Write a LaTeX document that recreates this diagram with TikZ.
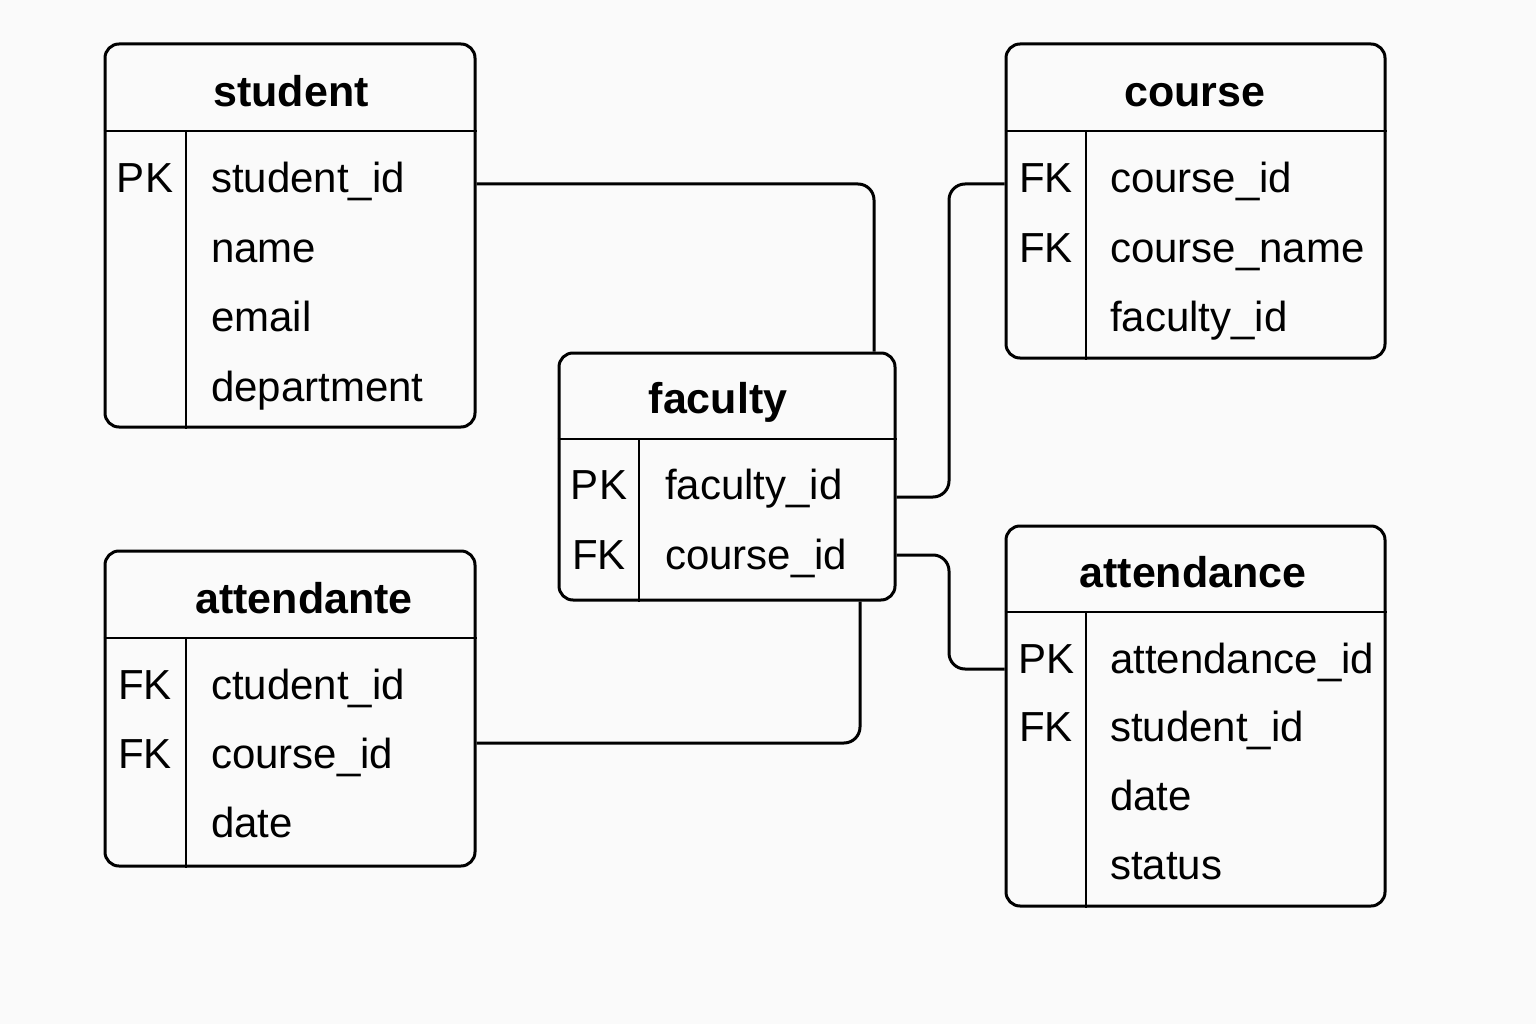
\documentclass[tikz,border=0pt]{standalone}
\usepackage{fontspec}
\setmainfont{Liberation Sans}
\usetikzlibrary{positioning}

\tikzset{
	table/.style={draw, line width=3pt, rounded corners=14pt, inner sep=0pt},
	rule/.style={line width=2.6pt},
	title/.style={anchor=base, inner sep=0pt, font=\fontsize{43}{50}\selectfont\bfseries},
	field/.style={anchor=base west, inner sep=0pt, font=\fontsize{42}{50}\selectfont},
	key/.style={anchor=base, inner sep=0pt, font=\fontsize{42}{50}\selectfont},
	link/.style={line width=3pt, rounded corners=16pt},
}

\begin{document}
\begin{tikzpicture}[x=1pt, y=-1pt]
	\useasboundingbox[fill=white!98!black] (0,0) rectangle (1536,1024);

	% Table student
	\node[table, minimum width=370, minimum height=383] (student) at (290,235.5) {};
	\draw[rule] (student.west |- 0,131) -- (student.east |- 0,131);
	\draw[rule] (186,131) -- (186,0 |- student.south);
	\node[title] (student-t) at (291,107) {student};
	\foreach \k/\f [count=\i] in {PK/student\_id, /name, /email, /department} {
		\node[key] (student-k\i) at (145,{193+69.4*(\i-1)}) {\k};
		\node[field] (student-\i) at (211,{193+69.4*(\i-1)}) {\f};
	}

	% Table course
	\node[table, minimum width=379, minimum height=314] (course) at (1195.5,201) {};
	\draw[rule] (course.west |- 0,131) -- (course.east |- 0,131);
	\draw[rule] (1086,131) -- (1086,0 |- course.south);
	\node[title] (course-t) at (1195,107) {course};
	\foreach \k/\f [count=\i] in {FK/course\_id, FK/course\_name, /faculty\_id} {
		\node[key] (course-k\i) at (1046,{193+69.4*(\i-1)}) {\k};
		\node[field] (course-\i) at (1110,{193+69.4*(\i-1)}) {\f};
	}

	% Table faculty
	\node[table, minimum width=336, minimum height=247] (faculty) at (727,476.5) {};
	\draw[rule] (faculty.west |- 0,439) -- (faculty.east |- 0,439);
	\draw[rule] (639,439) -- (639,0 |- faculty.south);
	\node[title] (faculty-t) at (718,413) {faculty};
	\foreach \k/\f [count=\i] in {PK/faculty\_id, FK/course\_id} {
		\node[key] (faculty-k\i) at (599,{499+70*(\i-1)}) {\k};
		\node[field] (faculty-\i) at (665,{499+70*(\i-1)}) {\f};
	}

	% Table attendante
	\node[table, minimum width=370, minimum height=315] (attendante) at (290,708.5) {};
	\draw[rule] (attendante.west |- 0,638) -- (attendante.east |- 0,638);
	\draw[rule] (186,638) -- (186,0 |- attendante.south);
	\node[title] (attendante-t) at (304,613) {attendante};
	\foreach \k/\f [count=\i] in {FK/ctudent\_id, FK/course\_id, /date} {
		\node[key] (attendante-k\i) at (145,{699+69.4*(\i-1)}) {\k};
		\node[field] (attendante-\i) at (211,{699+69.4*(\i-1)}) {\f};
	}

	% Table attendance
	\node[table, minimum width=379, minimum height=380] (attendance) at (1195.5,716) {};
	\draw[rule] (attendance.west |- 0,612) -- (attendance.east |- 0,612);
	\draw[rule] (1086,612) -- (1086,0 |- attendance.south);
	\node[title] (attendance-t) at (1193,587) {attendance};
	\foreach \k/\f [count=\i] in {PK/attendance\_id, FK/student\_id, /date, /status} {
		\node[key] (attendance-k\i) at (1046,{673+68.7*(\i-1)}) {\k};
		\node[field] (attendance-\i) at (1110,{673+68.7*(\i-1)}) {\f};
	}

	% Liens
	\draw[link] (student.east |- 0,184) -| (faculty.north -| 874,0);
	\draw[link] (course.west |- 0,184) -| (949,497) -- (faculty.east |- 0,497);
	\draw[link] (faculty.east |- 0,555) -| (949,669) -- (attendance.west |- 0,669);
	\draw[link] (attendante.east |- 0,743) -| (faculty.south -| 860,0);
\end{tikzpicture}
\end{document}
